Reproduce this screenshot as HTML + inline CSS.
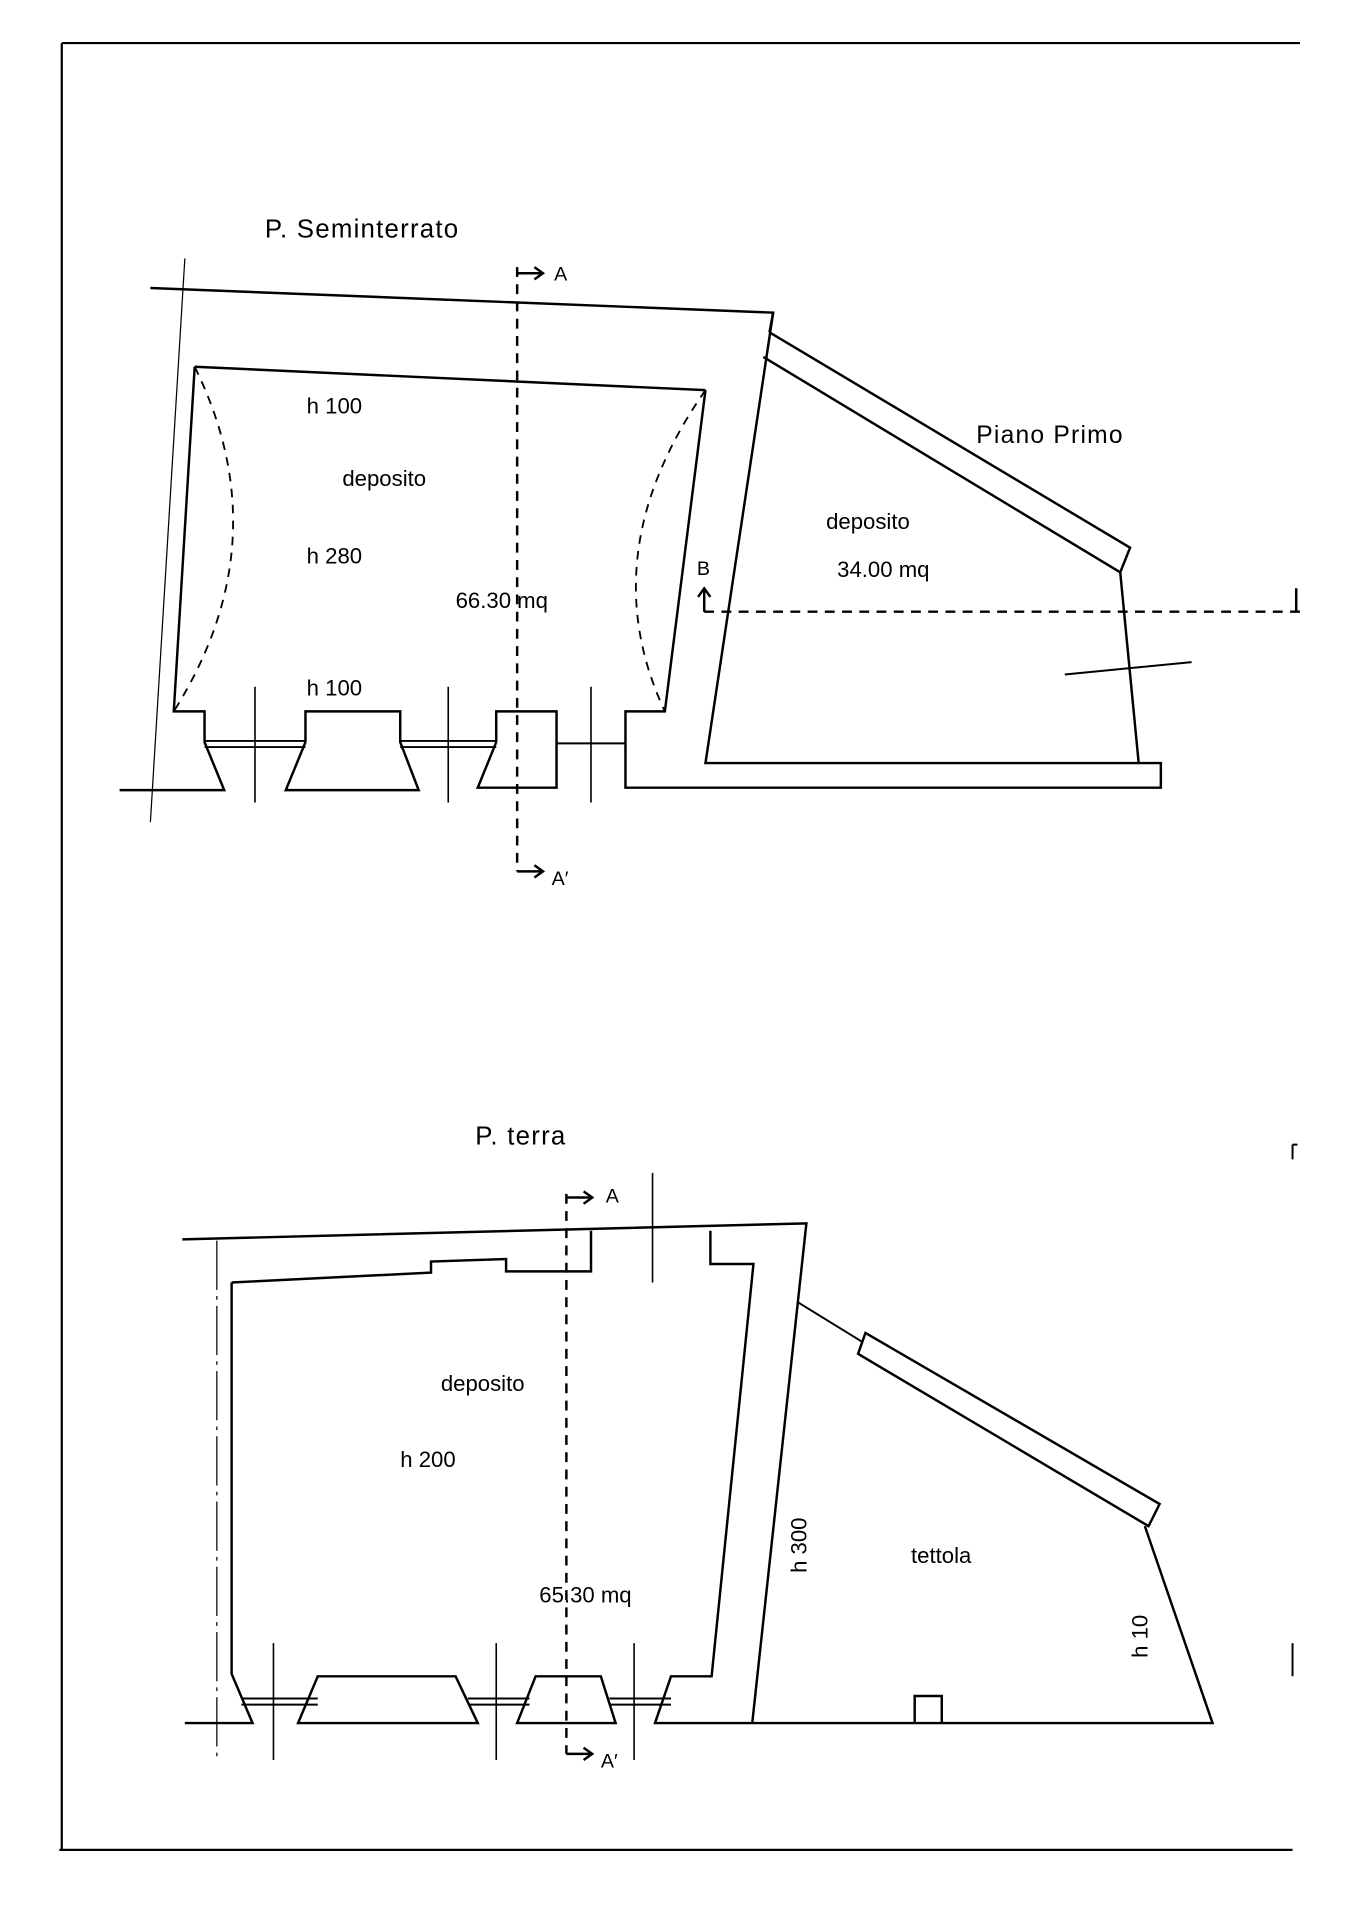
<!DOCTYPE html>
<html><head><meta charset="utf-8"><style>html,body{margin:0;padding:0;background:#fff}svg{display:block}</style></head>
<body>
<svg width="1358" height="1920" viewBox="0 0 1103 1560" xmlns="http://www.w3.org/2000/svg" font-family="Liberation Sans, sans-serif" font-size="18" fill="none" stroke="#000" stroke-width="2">
<!-- border -->
<path d="M50 35 H1056 M50 35 V1503 M48 1503 H1050" stroke-width="1.8"/>
<g fill="#000" stroke="none">
<text x="215" y="193" font-size="21" letter-spacing="1">P. Seminterrato</text>
<text x="249" y="336">h 100</text>
<text x="278" y="395">deposito</text>
<text x="249" y="458">h 280</text>
<text x="370" y="494">66.30 mq</text>
<text x="249" y="565">h 100</text>
<text x="793" y="360" font-size="20" letter-spacing="1">Piano Primo</text>
<text x="671" y="430">deposito</text>
<text x="680" y="469">34.00 mq</text>
<text x="566" y="467" font-size="16">B</text>
<text x="450" y="228" font-size="16">A</text>
<text x="448" y="719" font-size="16">A′</text>
<text x="386" y="930" font-size="21" letter-spacing="1">P. terra</text>
<text x="492" y="977" font-size="16">A</text>
<text x="488" y="1436" font-size="16">A′</text>
<text x="358" y="1130">deposito</text>
<text x="325" y="1192">h 200</text>
<text x="438" y="1302">65.30 mq</text>
<text x="740" y="1270">tettola</text>
<text transform="translate(655,1278) rotate(-90)">h 300</text>
<text transform="translate(932,1347) rotate(-90)">h 10</text>
</g>
<!-- TOP PLAN -->
<path d="M150 210 L122 668" stroke-width="1"/>
<path d="M122 234 L628 254 L573 620 L925 620 L910 465"/>
<path d="M625 270 L918 445 L910 465 L620 290" />
<path d="M628 254 L625 270"/>
<path d="M573 317 L540 578 L508 578 L508 640 L943 640 L943 620 L925 620"/>
<path d="M158 298 L573 317"/>
<path d="M158 298 L141 578 L166 578 L166 603 L182 642 L97 642"/>
<path d="M166 602 H248 M166 607 H248 M325 602 H403 M325 607 H403 M452 604 H508" stroke-width="1.6"/>
<path d="M207 558 V652 M364 558 V652 M480 558 V652" stroke-width="1.3"/>
<path d="M248 603 V578 H325 V603 L340 642 H232 L248 603"/>
<path d="M403 603 V578 H452 V640 H388 L403 603"/>
<path d="M158 298 Q228 440 141 578 M573 317 Q480 450 540 578" stroke-dasharray="7 6" stroke-width="1.5"/>
<path d="M420 217 V708" stroke-dasharray="8 6"/>
<path d="M420 222 H440 M434 217 L441 222 L434 227 M420 708 H440 M434 703 L441 708 L434 713" />
<path d="M572 497 H1056" stroke-dasharray="8 6"/>
<path d="M572 497 V478 M567 485 L572 478 L577 485 M1053 497 V478"/>
<path d="M865 548 L968 538" stroke-width="1.6"/>
<!-- BOTTOM PLAN -->
<path d="M176 1008 V1428" stroke-width="1" stroke-dasharray="40 5 3 5"/>
<path d="M148 1007 L655 994 L611 1400"/>
<path d="M188 1042 L350 1034 L350 1025 L411 1023 L411 1033 L480 1033 L480 1000 M577 1000 L577 1027 L612 1027 L578 1362 L545 1362 L532 1400 L985 1400 L930 1240"/>
<path d="M188 1042 L188 1360 L205 1400 L150 1400"/>
<path d="M196 1380 H258 M196 1385 H258 M380 1380 H430 M380 1385 H430 M495 1380 H545 M495 1385 H545" stroke-width="1.6"/>
<path d="M222 1335 V1430 M403 1335 V1430 M515 1335 V1430 M530 953 V1042" stroke-width="1.3"/>
<path d="M258 1362 H370 L388 1400 H242 Z"/>
<path d="M435 1362 H488 L500 1400 H420 Z"/>
<path d="M703 1083 L942 1222 L933 1240 L697 1100 Z"/>
<path d="M648 1058 L700 1090" stroke-width="1.6"/>
<path d="M743 1400 V1378 H765 V1400"/>
<path d="M460 970 V1425" stroke-dasharray="8 6"/>
<path d="M460 973 H480 M474 968 L481 973 L474 978 M460 1425 H480 M474 1420 L481 1425 L474 1430"/>
<path d="M1050 930 V942 M1050 930 H1054 M1050 1335 V1362" stroke-width="1.6"/>
</svg>
</body></html>
